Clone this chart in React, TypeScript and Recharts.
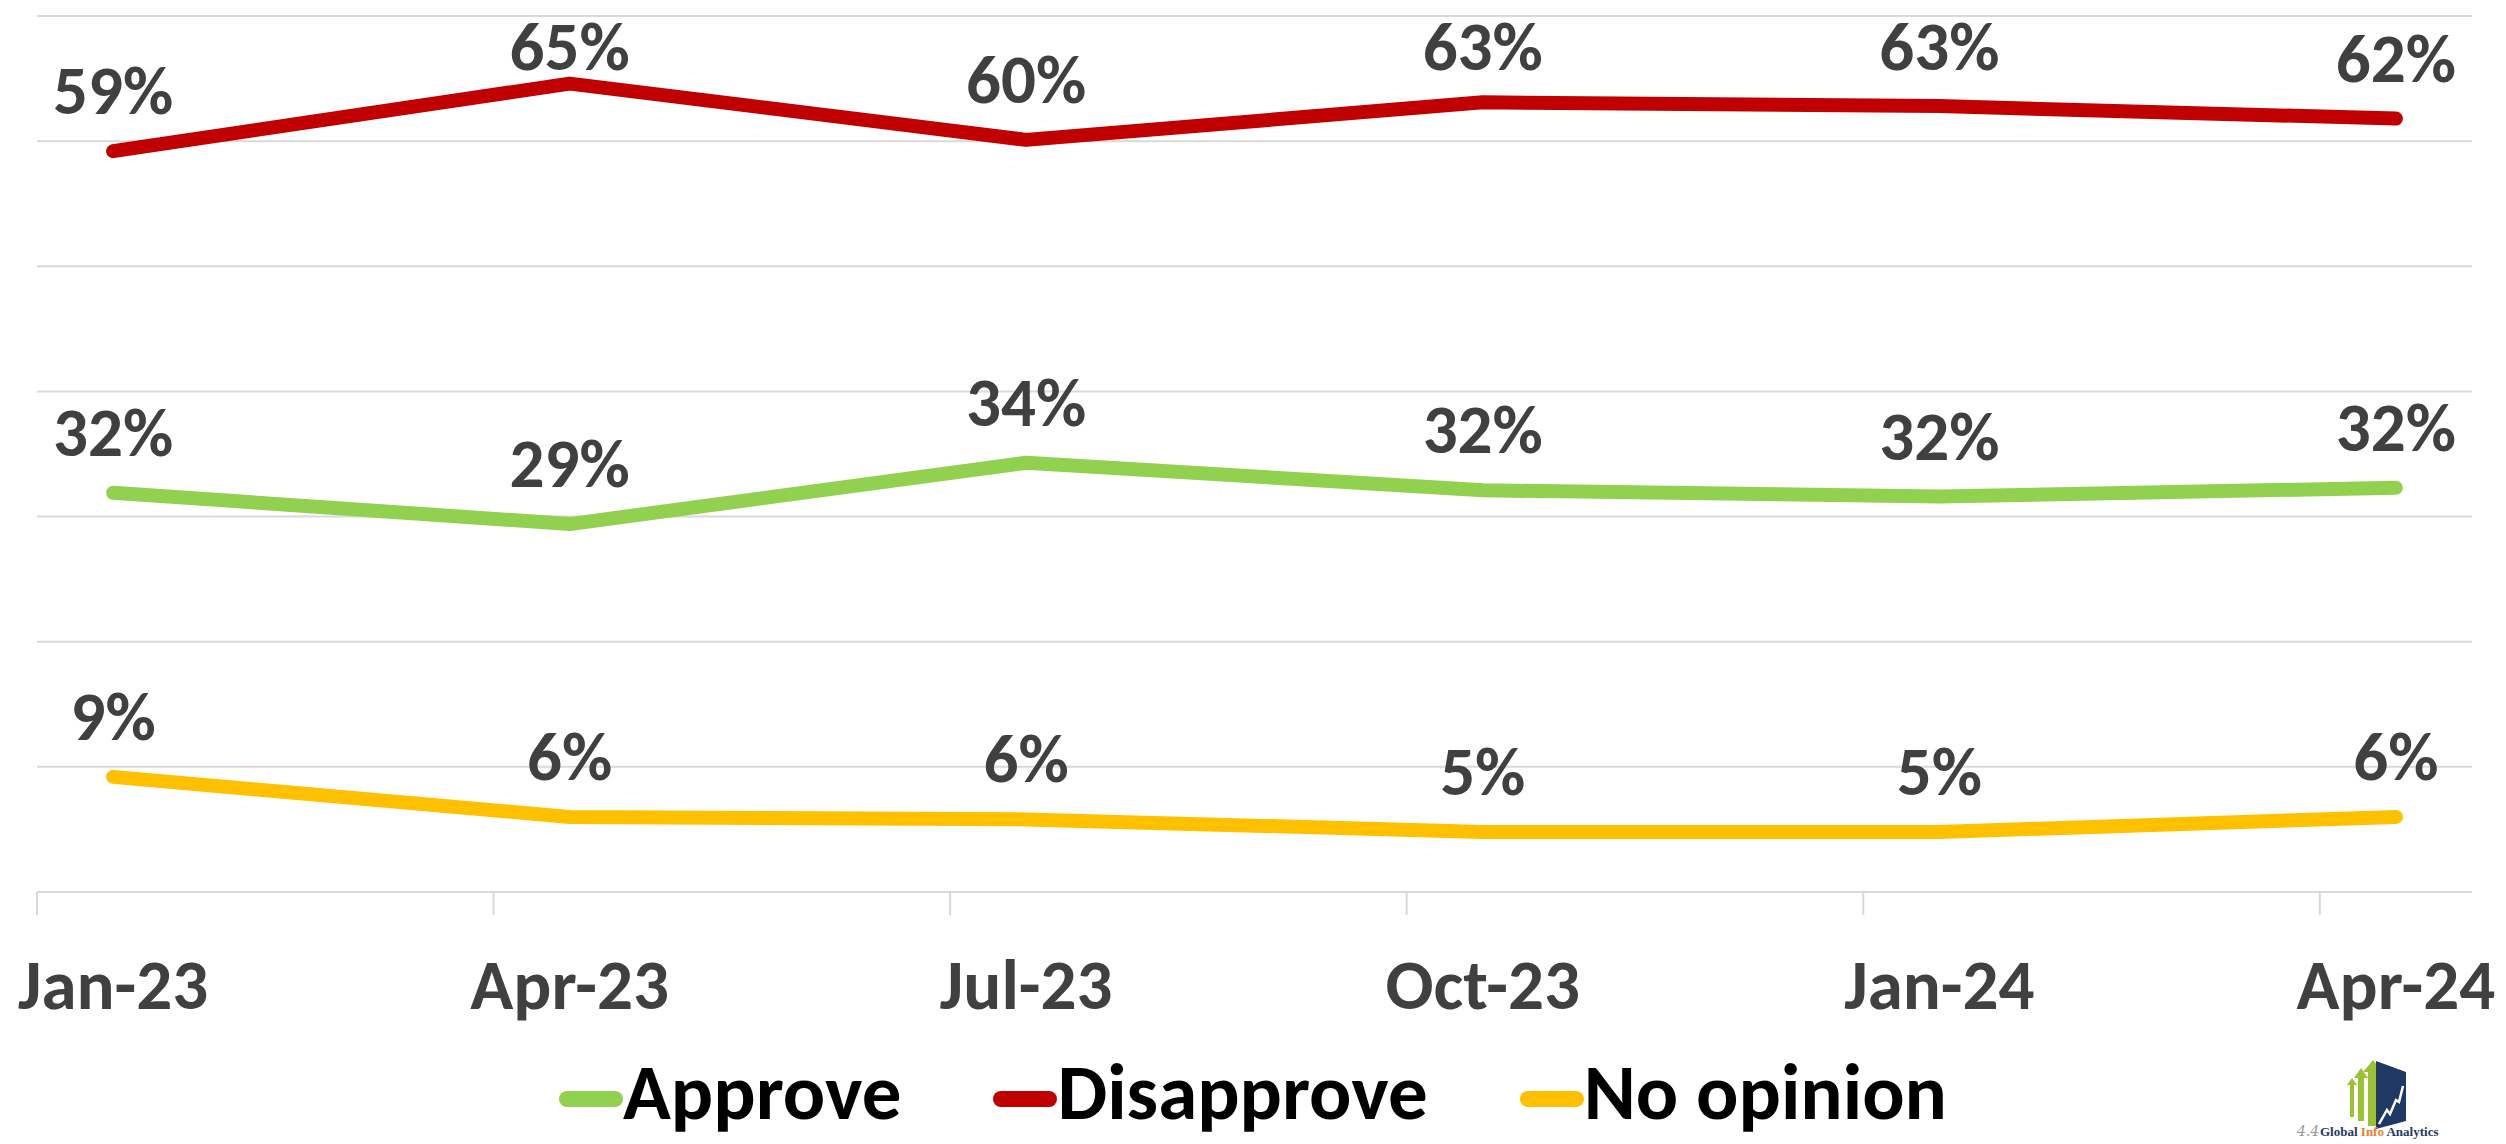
import React from "react";
import { LineChart, Line, XAxis, YAxis, CartesianGrid, Legend, LabelList } from "recharts";

const FONT = "Carlito, Calibri, Lato, sans-serif";

// month index 0 = Jan-23; points sit in the middle of each month slot
const months = ["Jan-23", "Apr-23", "Jul-23", "Oct-23", "Jan-24", "Apr-24"];
const monthIndex = [0, 3, 6, 9, 12, 15];
const approve = [31.9, 29.4, 34.3, 32.1, 31.6, 32.3];
const disapprove = [59.2, 64.6, 60.1, 63.1, 62.8, 61.8];
const noOpinion = [9.2, 6.0, 5.8, 4.8, 4.8, 6.0];
const yTicks = [0, 10, 20, 30, 40, 50, 60, 70];
const boundaryTicks = [-0.5, 2.5, 5.5, 8.5, 11.5, 14.5];

const data = months.map((name, i) => ({
  name,
  m: monthIndex[i],
  approve: approve[i],
  disapprove: disapprove[i],
  noOpinion: noOpinion[i],
}));

const xTicks = [...boundaryTicks, ...monthIndex].sort((a, b) => a - b);

function MonthTick(props: any) {
  const { x, y, payload } = props;
  const i = monthIndex.indexOf(payload.value);
  if (i < 0) {
    return <line x1={x} x2={x} y1={y} y2={y + 23} stroke="#d9d9d9" strokeWidth={2} />;
  }
  return (
    <text x={x} y={y + 117} textAnchor="middle" fill="#404040" fontSize={71} fontWeight={700} fontFamily={FONT}>
      {months[i]}
    </text>
  );
}

// labels sit above the point, but never above the top of the chart
function PctLabel(props: any) {
  const { x, y, value } = props;
  return (
    <text
      x={x}
      y={Math.max(y - 37, 70)}
      textAnchor="middle"
      fill="#404040"
      fontSize={69}
      fontWeight={700}
      fontFamily={FONT}
    >
      {Math.round(value)}%
    </text>
  );
}

function LegendRow(props: any) {
  const items = props.payload || [];
  return (
    <div
      style={{
        display: "flex",
        justifyContent: "center",
        alignItems: "center",
        gap: 92,
        height: 92,
        fontFamily: FONT,
        fontWeight: 700,
        fontSize: 79,
        color: "#000",
      }}
    >
      {items.map((it: any) => (
        <div key={it.value} style={{ display: "flex", alignItems: "center" }}>
          <span
            style={{ display: "inline-block", width: 64, height: 16, borderRadius: 8, background: it.color, marginTop: 14 }}
          />
          <span style={{ lineHeight: 1.2 }}>{it.value}</span>
        </div>
      ))}
    </div>
  );
}

function Logo() {
  return (
    <svg width={170} height={86} style={{ position: "absolute", left: 2290, top: 1054 }}>
      <g fill="#9bc232">
        <polygon points="57,31 62,24 67,31 64,31 64,63 60,63 60,31" />
        <polygon points="64,24 71,14 78,24 74,24 74,67 68,67 68,24" />
        <polygon points="73,18 83,6 93,18 88,18 88,72 78,72 78,18" />
      </g>
      <polygon points="86,7 116,18 116,67 86,75" fill="#1f3864" />
      <polyline points="89,70 97,56 100,60 106,46 109,48 113,32" stroke="#fff" strokeWidth={2.5} fill="none" />
      <text x={7} y={82} fontSize={14} fill="#999" fontStyle="italic" fontFamily="DejaVu Serif">4.4</text>
      <text x={30} y={82} fontSize={13} fontWeight={700} fontFamily="Liberation Serif">
        <tspan fill="#1f3864">Global </tspan>
        <tspan fill="#ed7d31">Info </tspan>
        <tspan fill="#1f3864">Analytics</tspan>
      </text>
    </svg>
  );
}

export default function App() {
  return (
    <div style={{ position: "absolute", left: 0, top: 0, width: 2506, height: 1144, background: "#fff", overflow: "hidden" }}>
      <LineChart width={2506} height={1144} data={data} margin={{ top: 16, left: 37, right: 34, bottom: 30 }}>
        <CartesianGrid vertical={false} stroke="#d9d9d9" strokeWidth={2} />
        <XAxis
          dataKey="m"
          type="number"
          domain={[-0.5, 15.5]}
          ticks={xTicks}
          interval={0}
          tick={<MonthTick />}
          tickLine={false}
          tickSize={0}
          tickMargin={0}
          height={130}
          axisLine={{ stroke: "#d9d9d9", strokeWidth: 2 }}
        />
        <YAxis hide domain={[0, 70]} ticks={yTicks} />
        <Legend
          verticalAlign="bottom"
          height={92}
          content={<LegendRow />}
          wrapperStyle={{ top: 1046, left: 0, width: 2506 }}
        />
        <Line
          name="Approve"
          dataKey="approve"
          stroke="#92d050"
          strokeWidth={14}
          strokeLinecap="round"
          strokeLinejoin="round"
          dot={false}
          activeDot={false}
          isAnimationActive={false}
        >
          <LabelList dataKey="approve" content={<PctLabel />} />
        </Line>
        <Line
          name="Disapprove"
          dataKey="disapprove"
          stroke="#c00000"
          strokeWidth={14}
          strokeLinecap="round"
          strokeLinejoin="round"
          dot={false}
          activeDot={false}
          isAnimationActive={false}
        >
          <LabelList dataKey="disapprove" content={<PctLabel />} />
        </Line>
        <Line
          name="No opinion"
          dataKey="noOpinion"
          stroke="#ffc000"
          strokeWidth={14}
          strokeLinecap="round"
          strokeLinejoin="round"
          dot={false}
          activeDot={false}
          isAnimationActive={false}
        >
          <LabelList dataKey="noOpinion" content={<PctLabel />} />
        </Line>
      </LineChart>
      <Logo />
    </div>
  );
}
